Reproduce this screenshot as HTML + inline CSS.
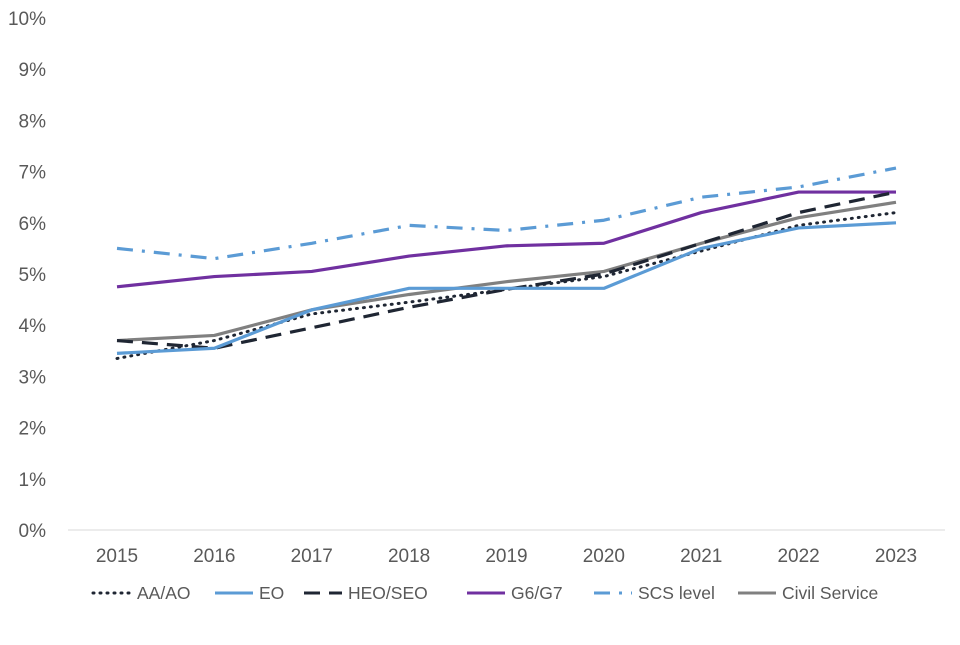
<!DOCTYPE html>
<html><head><meta charset="utf-8"><style>
body{margin:0;background:#fff;font-family:"Liberation Sans",Arial,sans-serif}
svg text{font-family:"Liberation Sans",Arial,sans-serif;fill:#595959}
</style></head><body>
<svg id="chart" width="960" height="640" xmlns="http://www.w3.org/2000/svg"></svg>
<script>
const years=["2015","2016","2017","2018","2019","2020","2021","2022","2023"];
const yTicks=[0,1,2,3,4,5,6,7,8,9,10];
const aaao=[3.35,3.7,4.22,4.45,4.7,4.95,5.45,5.95,6.2];
const eo=[3.45,3.55,4.3,4.72,4.72,4.72,5.5,5.9,6.0];
const heoseo=[3.7,3.55,3.95,4.35,4.7,5.0,5.6,6.2,6.6];
const g6g7=[4.75,4.95,5.05,5.35,5.55,5.6,6.2,6.6,6.6];
const scs=[5.5,5.3,5.6,5.95,5.85,6.05,6.5,6.7,7.07];
const civil=[3.7,3.8,4.3,4.6,4.85,5.05,5.6,6.1,6.4];
const seriesNames=["AA/AO","EO","HEO/SEO","G6/G7","SCS level","Civil Service"];

const NS="http://www.w3.org/2000/svg";
const svg=document.getElementById('chart');
const x=i=>117+i*(896-117)/(years.length-1);
const y=v=>530-v*51.2;
function mk(t,a){const e=document.createElementNS(NS,t);for(const k in a)e.setAttribute(k,a[k]);svg.appendChild(e);return e;}

const axis=mk('line',{x1:68,x2:945,y1:530,y2:530,stroke:'#d9d9d9','stroke-width':1});


yTicks.forEach(t=>{const e=mk('text',{x:46,y:y(t)+7,'text-anchor':'end','font-size':19});e.textContent=t+'%';

});
years.forEach((yr,i)=>{const e=mk('text',{x:x(i),y:562,'text-anchor':'middle','font-size':19});e.textContent=yr;

});

const styles=[
 {d:aaao,c:'#1f2633',w:3,da:'1 6',cap:'round'},
 {d:eo,c:'#5b9bd5',w:3.2,da:'',cap:'butt'},
 {d:heoseo,c:'#1f2633',w:3.2,da:'16 9',cap:'butt'},
 {d:g6g7,c:'#7030a0',w:3.2,da:'',cap:'butt'},
 {d:scs,c:'#5b9bd5',w:3.2,da:'16 9 3 9',cap:'butt'},
 {d:civil,c:'#808080',w:3.2,da:'',cap:'butt'}
];
const order=[4,3,5,0,2,1];
order.forEach(k=>{const s=styles[k];
 const p=mk('polyline',{points:s.d.map((v,i)=>x(i)+','+y(v)).join(' '),fill:'none',stroke:s.c,'stroke-width':s.w,'stroke-dasharray':s.da,'stroke-linecap':s.cap,'stroke-linejoin':'round'});
 
 
});
const lx=[93,215,304,467,594,738];
styles.forEach((s,k)=>{
 const l=mk('line',{x1:lx[k],x2:lx[k]+38,y1:593,y2:593,stroke:s.c,'stroke-width':3,'stroke-dasharray':s.da,'stroke-linecap':s.cap});
 
 
 const t=mk('text',{x:lx[k]+44,y:599,'font-size':17.5});t.textContent=seriesNames[k];
 
 
});
</script>
</body></html>
